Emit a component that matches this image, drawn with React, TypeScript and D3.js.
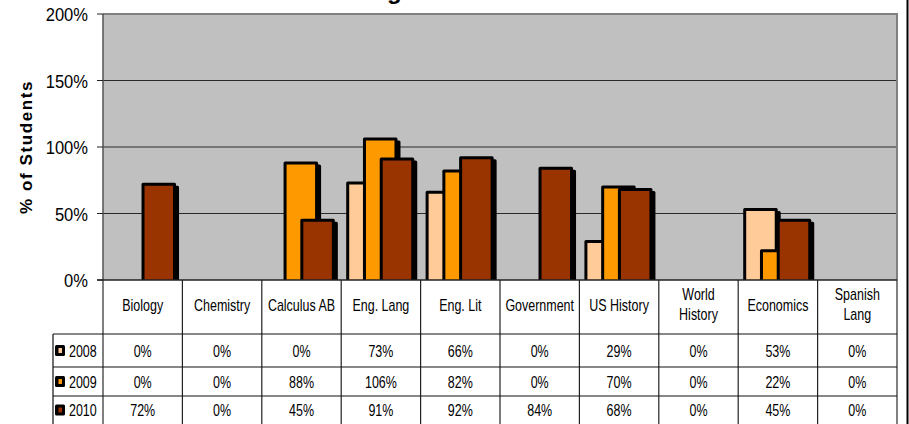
import React, { useEffect, useRef } from 'react';
import * as d3 from 'd3';

const categories = [
  'Biology',
  'Chemistry',
  'Calculus AB',
  'Eng. Lang',
  'Eng. Lit',
  'Government',
  'US History',
  'World\nHistory',
  'Economics',
  'Spanish\nLang',
];
const years = ['2008', '2009', '2010'];
const values2008 = [0, 0, 0, 73, 66, 0, 29, 0, 53, 0];
const values2009 = [0, 0, 88, 106, 82, 0, 70, 0, 22, 0];
const values2010 = [72, 0, 45, 91, 92, 84, 68, 0, 45, 0];
const yTicks = [0, 50, 100, 150, 200];
const seriesColors = ['#FFCC99', '#FF9900', '#993300'];
const chartTitle = 'AP Passing Rates';
const yTitle = '% of Students';

const W = 909;
const H = 424;

export default function App() {
  const svgRef = useRef<SVGSVGElement>(null);

  useEffect(() => {
    if (!svgRef.current) return;
    const svg = d3.select(svgRef.current);
    svg.selectAll('*').remove();

    const series = [values2008, values2009, values2010];
    const plot = { left: 103, right: 897, top: 14, bottom: 280 };

    const x = d3.scaleBand().domain(categories).range([plot.left, plot.right]);
    const y = d3.scaleLinear().domain([0, 200]).range([plot.bottom, plot.top]);
    const bw = x.bandwidth();
    // overlapping bars inside each category
    const xs = d3.scaleLinear().domain([0, 2]).range([0.082, 0.504]);
    const barW = bw * 0.397;

    const rowTop = d3.scaleOrdinal<string, number>().domain(years).range([334, 367, 396]);
    const rowBottom = d3.scaleOrdinal<string, number>().domain(years).range([367, 396, 424]);

    // squashed text like the original picture
    const label = (
      parent: d3.Selection<any, any, any, any>,
      tx: number,
      ty: number,
      str: string,
      opts: { size?: number; sx?: number; anchor?: string; weight?: string } = {}
    ) =>
      parent
        .append('text')
        .attr('transform', `translate(${tx},${ty}) scale(${opts.sx ?? 0.78},1)`)
        .attr('text-anchor', opts.anchor ?? 'middle')
        .attr('font-family', 'Liberation Sans, Arial, sans-serif')
        .attr('font-size', opts.size ?? 16)
        .attr('font-weight', opts.weight ?? 'normal')
        .attr('fill', '#000')
        .text(str);

    svg.append('rect').attr('width', W).attr('height', H).attr('fill', '#fff');

    // title (mostly cut off at the top)
    svg
      .append('text')
      .attr('x', 270)
      .attr('y', -1.5)
      .attr('font-family', 'Liberation Sans, Arial, sans-serif')
      .attr('font-size', 24)
      .attr('font-weight', 'bold')
      .text(chartTitle);

    // plot background
    svg
      .append('rect')
      .attr('x', plot.left)
      .attr('y', plot.top)
      .attr('width', plot.right - plot.left)
      .attr('height', plot.bottom - plot.top)
      .attr('fill', '#C0C0C0');

    // grid lines
    svg
      .selectAll('.grid')
      .data(yTicks.filter((t) => t > 0 && t < 200))
      .enter()
      .append('line')
      .attr('x1', plot.left)
      .attr('x2', plot.right)
      .attr('y1', (d) => y(d))
      .attr('y2', (d) => y(d))
      .attr('stroke', '#2a2a2a')
      .attr('stroke-width', 1);

    // plot border top / right
    svg
      .append('line')
      .attr('x1', plot.left)
      .attr('x2', plot.right + 1)
      .attr('y1', plot.top)
      .attr('y2', plot.top)
      .attr('stroke', '#808080')
      .attr('stroke-width', 2);
    svg
      .append('line')
      .attr('x1', plot.right)
      .attr('x2', plot.right)
      .attr('y1', plot.top)
      .attr('y2', H)
      .attr('stroke', '#808080')
      .attr('stroke-width', 2);

    // bars
    svg
      .append('clipPath')
      .attr('id', 'plotClip')
      .append('rect')
      .attr('x', plot.left)
      .attr('y', 0)
      .attr('width', plot.right - plot.left)
      .attr('height', plot.bottom);

    const barsG = svg.append('g').attr('clip-path', 'url(#plotClip)');
    series.forEach((vals, i) => {
      vals.forEach((v, j) => {
        if (v <= 0) return;
        const bx = (x(categories[j]) ?? 0) + xs(i) * bw;
        const by = y(v);
        const bh = y(0) - y(v) + 4;
        barsG
          .append('rect')
          .attr('x', bx + 3)
          .attr('y', by + 3)
          .attr('width', barW)
          .attr('height', bh)
          .attr('fill', '#000')
          .attr('stroke', '#000')
          .attr('stroke-width', 3)
          .attr('stroke-linejoin', 'round');
        barsG
          .append('rect')
          .attr('x', bx)
          .attr('y', by)
          .attr('width', barW)
          .attr('height', bh)
          .attr('fill', seriesColors[i])
          .attr('stroke', '#000')
          .attr('stroke-width', 3)
          .attr('stroke-linejoin', 'round');
      });
    });

    // y axis
    svg
      .append('line')
      .attr('x1', plot.left)
      .attr('x2', plot.left)
      .attr('y1', plot.top)
      .attr('y2', H)
      .attr('stroke', '#555')
      .attr('stroke-width', 1.5);
    yTicks.forEach((t) => {
      svg
        .append('line')
        .attr('x1', plot.left - 6)
        .attr('x2', plot.left)
        .attr('y1', y(t))
        .attr('y2', y(t))
        .attr('stroke', '#222')
        .attr('stroke-width', 1);
      label(svg, 88, y(t) + 7, `${t}%`, { size: 18, sx: 0.92, anchor: 'end' });
    });

    svg
      .append('text')
      .attr('transform', `translate(32,147) rotate(-90)`)
      .attr('text-anchor', 'middle')
      .attr('font-family', 'Liberation Sans, Arial, sans-serif')
      .attr('font-size', 17)
      .attr('font-weight', 'bold')
      .attr('letter-spacing', 1.6)
      .text(yTitle);

    // category axis line
    svg
      .append('line')
      .attr('x1', plot.left - 6)
      .attr('x2', plot.right)
      .attr('y1', plot.bottom)
      .attr('y2', plot.bottom)
      .attr('stroke', '#222')
      .attr('stroke-width', 1.5);

    // data table
    const tableG = svg.append('g');
    categories.forEach((c, j) => {
      const bx = x(c) ?? 0;
      if (j > 0) {
        tableG
          .append('line')
          .attr('x1', bx)
          .attr('x2', bx)
          .attr('y1', plot.bottom)
          .attr('y2', H)
          .attr('stroke', '#222')
          .attr('stroke-width', 1.2);
      }
      const lines = c.split('\n');
      lines.forEach((ln, k) => {
        const base = lines.length === 1 ? 310.5 : 300 + k * 20;
        label(tableG, bx + bw / 2, base, ln);
      });
      years.forEach((yr, i) => {
        const cy = (rowTop(yr) + rowBottom(yr)) / 2 + 6;
        label(tableG, bx + bw / 2, cy, `${series[i][j]}%`);
      });
    });

    // row lines and legend column
    years.forEach((yr) => {
      tableG
        .append('line')
        .attr('x1', 53)
        .attr('x2', plot.right)
        .attr('y1', rowTop(yr))
        .attr('y2', rowTop(yr))
        .attr('stroke', '#111')
        .attr('stroke-width', 1.2);
    });
    tableG
      .append('line')
      .attr('x1', 53)
      .attr('x2', 53)
      .attr('y1', rowTop(years[0]))
      .attr('y2', H)
      .attr('stroke', '#111')
      .attr('stroke-width', 1.2);

    years.forEach((yr, i) => {
      const cy = (rowTop(yr) + rowBottom(yr)) / 2;
      tableG
        .append('rect')
        .attr('x', 55)
        .attr('y', cy - 5.5)
        .attr('width', 10)
        .attr('height', 11)
        .attr('rx', 1.5)
        .attr('fill', '#000');
      tableG
        .append('rect')
        .attr('x', 58.5)
        .attr('y', cy - 2.5)
        .attr('width', 3.5)
        .attr('height', 5)
        .attr('fill', seriesColors[i]);
      label(tableG, 69, cy + 6, yr, { anchor: 'start' });
    });

    // chart area right border
    svg
      .append('line')
      .attr('x1', 907.5)
      .attr('x2', 907.5)
      .attr('y1', 0)
      .attr('y2', H)
      .attr('stroke', '#000')
      .attr('stroke-width', 2);
  }, []);

  return (
    <svg
      ref={svgRef}
      width={W}
      height={H}
      style={{ position: 'absolute', left: 0, top: 0, display: 'block' }}
    />
  );
}
